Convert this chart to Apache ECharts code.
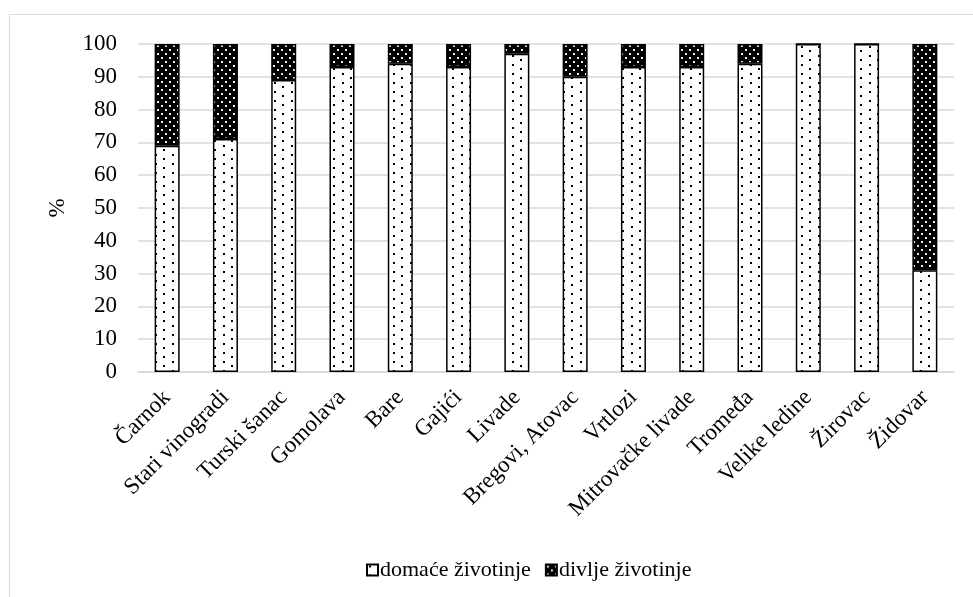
<!DOCTYPE html>
<html>
<head>
<meta charset="utf-8">
<script src="https://cdn.jsdelivr.net/npm/echarts@6/dist/echarts.min.js"></script>
<style>
  html, body { margin: 0; padding: 0; background: #fff; }
  #chart { width: 973px; height: 597px; }
</style>
</head>
<body>
<div id="chart"></div>
<script>
// Sites (category axis)
const categories = [
  'Čarnok', 'Stari vinogradi', 'Turski šanac', 'Gomolava', 'Bare', 'Gajići',
  'Livade', 'Bregovi, Atovac', 'Vrtlozi', 'Mitrovačke livade', 'Tromeđa',
  'Velike ledine', 'Žirovac', 'Židovar'
];
// Share of domestic animals, %
const domace = [69, 71, 89, 93, 94, 93, 97, 90, 93, 93, 94, 100, 100, 31];
// Share of wild animals, %
const divlje = [31, 29, 11, 7, 6, 7, 3, 10, 7, 7, 6, 0, 0, 69];
// Series names
const seriesNames = ['domaće životinje', 'divlje životinje'];
// Value axis range
const yMin = 0, yMax = 100, yStep = 10;

// Dotted fill tiles
function dotTile(w, h, bg, fg, dots, size) {
  const c = document.createElement('canvas');
  c.width = w; c.height = h;
  const g = c.getContext('2d');
  g.fillStyle = bg; g.fillRect(0, 0, w, h);
  g.fillStyle = fg;
  dots.forEach(d => g.fillRect(d[0], d[1], size, size));
  return c;
}
const lightTile = dotTile(17, 9, '#ffffff', '#000000', [[2, 1], [10, 5]], 2);
const darkTile = dotTile(8, 8, '#000000', '#e6e6e6', [[1, 1], [5, 5]], 2);

const font = '"Liberation Serif", "Times New Roman", serif';
const fs = 23;

const chart = echarts.init(document.getElementById('chart'), null, { renderer: 'canvas' });
chart.setOption({
  backgroundColor: '#ffffff',
  animation: false,
  graphic: [{
    type: 'rect',
    shape: { x: 9.5, y: 14.5, width: 1000, height: 1000 },
    style: { fill: 'none', stroke: '#d9d9d9', lineWidth: 1 },
    silent: true
  }],
  grid: { left: 138, right: 19, top: 44, bottom: 225, containLabel: false },
  legend: {
    bottom: 11,
    left: 361,
    icon: 'rect',
    itemWidth: 11,
    itemHeight: 11,
    itemGap: 14,
    textStyle: { fontFamily: font, fontSize: 22, color: '#000', padding: [0, 0, 0, -3] },
    data: seriesNames
  },
  xAxis: {
    type: 'category',
    data: categories,
    axisLine: { lineStyle: { color: '#d9d9d9', width: 1.5 } },
    axisTick: { show: false },
    axisLabel: {
      rotate: 45,
      interval: 0,
      margin: 22,
      color: '#000',
      fontFamily: font,
      fontSize: fs
    }
  },
  yAxis: {
    type: 'value',
    min: yMin, max: yMax, interval: yStep,
    name: '%',
    nameLocation: 'middle',
    nameRotate: 90,
    nameGap: 69,
    nameTextStyle: { fontFamily: font, fontSize: fs, color: '#000' },
    axisLine: { show: false },
    axisTick: { show: false },
    splitLine: { lineStyle: { color: '#d9d9d9', width: 1.5 } },
    axisLabel: { margin: 21, color: '#000', fontFamily: font, fontSize: fs }
  },
  series: [
    {
      name: seriesNames[0],
      type: 'bar',
      stack: 'total',
      barWidth: 25,
      data: domace,
      itemStyle: {
        color: { image: lightTile, repeat: 'repeat' },
        borderColor: '#000',
        borderWidth: 1.5
      }
    },
    {
      name: seriesNames[1],
      type: 'bar',
      stack: 'total',
      barWidth: 25,
      data: divlje,
      itemStyle: {
        color: { image: darkTile, repeat: 'repeat' },
        borderColor: '#000',
        borderWidth: 1.5
      }
    }
  ]
});
</script>
</body>
</html>
